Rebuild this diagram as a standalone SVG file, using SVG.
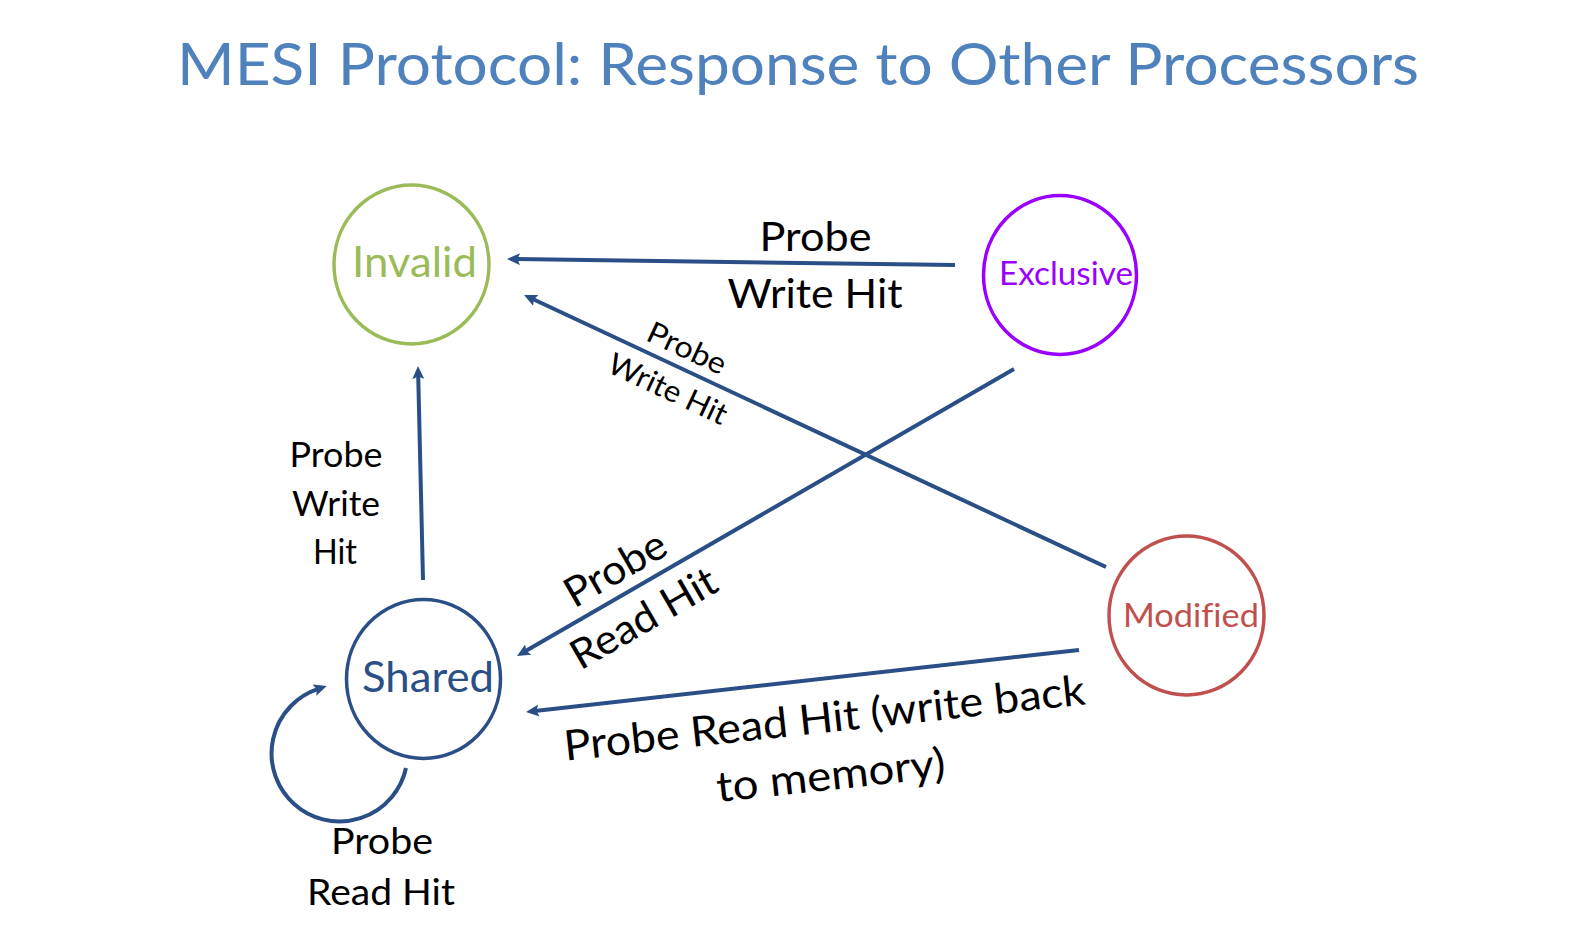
<svg xmlns="http://www.w3.org/2000/svg" width="1594" height="936" viewBox="0 0 1594 936">
<style>
text{font-family:"Lato","Liberation Sans",sans-serif;font-variant-ligatures:none;}
.title{font-size:59px;fill:#4F81BD;text-anchor:middle;}
.state{fill:none;stroke-width:3.5;}
.lbl{fill:#000;text-anchor:middle;}
.conn{fill:none;stroke:#2A4F86;stroke-width:4;marker-end:url(#ah);}
</style>
<defs>
<marker id="ah" markerUnits="userSpaceOnUse" markerWidth="13" markerHeight="12" viewBox="0 0 13 12" refX="4" refY="6" orient="auto">
<path d="M13,6 L0,0 L2.5,6 L0,12 z" fill="#2A4F86"/>
</marker>
</defs>
<rect width="1594" height="936" fill="#fff"/>
<text class="title" x="798" y="85" textLength="1242" lengthAdjust="spacingAndGlyphs">MESI Protocol: Response to Other Processors</text>

<g id="invalid">
<ellipse class="state" cx="411.5" cy="264.5" rx="77.5" ry="79.5" stroke="#9BBB59"/>
<text x="414.5" y="277" font-size="42" fill="#9BBB59" text-anchor="middle" textLength="125" lengthAdjust="spacingAndGlyphs">Invalid</text>
</g>
<g id="exclusive">
<ellipse class="state" cx="1060" cy="275" rx="76.5" ry="79.5" stroke="#9900FF"/>
<text x="1066" y="285" font-size="32" fill="#9900FF" text-anchor="middle" textLength="134" lengthAdjust="spacingAndGlyphs">Exclusive</text>
</g>
<g id="modified">
<ellipse class="state" cx="1186.5" cy="615.5" rx="77.5" ry="79.5" stroke="#C0504D"/>
<text x="1191" y="627" font-size="32" fill="#C0504D" text-anchor="middle" textLength="136" lengthAdjust="spacingAndGlyphs">Modified</text>
</g>
<g id="shared">
<ellipse class="state" cx="423.5" cy="679" rx="77" ry="79.5" stroke="#2A4F86"/>
<text x="428" y="692" font-size="42" fill="#2A4F86" text-anchor="middle" textLength="132" lengthAdjust="spacingAndGlyphs">Shared</text>
</g>

<g id="connectors">
<path class="conn" d="M955,265 L516,259.1"/>
<path class="conn" d="M1106,567 L532.2,298.8"/>
<path class="conn" d="M1014,369 L524.8,651.5"/>
<path class="conn" d="M1079,650 L534.9,711"/>
<path class="conn" d="M423,580 L418.2,375"/>
<path class="conn" d="M406,768 A68,68 0 1 1 318.2,688.9"/>
</g>

<g id="labels">
<text class="lbl" x="815.5" y="250.5" font-size="40" textLength="112" lengthAdjust="spacingAndGlyphs">Probe</text>
<text class="lbl" x="815" y="308" font-size="40" textLength="175" lengthAdjust="spacingAndGlyphs">Write Hit</text>

<g transform="translate(677.7,368) rotate(25.05)">
<text class="lbl" x="0" y="-11.5" font-size="30" textLength="84" lengthAdjust="spacingAndGlyphs">Probe</text>
<text class="lbl" x="0" y="33.5" font-size="30" textLength="128" lengthAdjust="spacingAndGlyphs">Write Hit</text>
</g>

<g transform="translate(629.5,593.5) rotate(-30)">
<text class="lbl" x="0" y="-14.5" font-size="41" textLength="111" lengthAdjust="spacingAndGlyphs">Probe</text>
<text class="lbl" x="0" y="42.5" font-size="41" textLength="162" lengthAdjust="spacingAndGlyphs">Read Hit</text>
</g>

<g transform="translate(826,732.5) rotate(-6.2)">
<text class="lbl" x="0" y="0" font-size="42" textLength="524" lengthAdjust="spacingAndGlyphs">Probe Read Hit (write back</text>
<text class="lbl" x="0" y="57.5" font-size="42" textLength="230" lengthAdjust="spacingAndGlyphs">to memory)</text>
</g>

<text class="lbl" x="336" y="467" font-size="35" textLength="93" lengthAdjust="spacingAndGlyphs">Probe</text>
<text class="lbl" x="336" y="516" font-size="35" textLength="88" lengthAdjust="spacingAndGlyphs">Write</text>
<text class="lbl" x="335" y="564" font-size="35" textLength="44" lengthAdjust="spacingAndGlyphs">Hit</text>

<text class="lbl" x="382" y="853.5" font-size="37" textLength="102" lengthAdjust="spacingAndGlyphs">Probe</text>
<text class="lbl" x="381" y="905" font-size="37" textLength="148" lengthAdjust="spacingAndGlyphs">Read Hit</text>
</g>
</svg>
